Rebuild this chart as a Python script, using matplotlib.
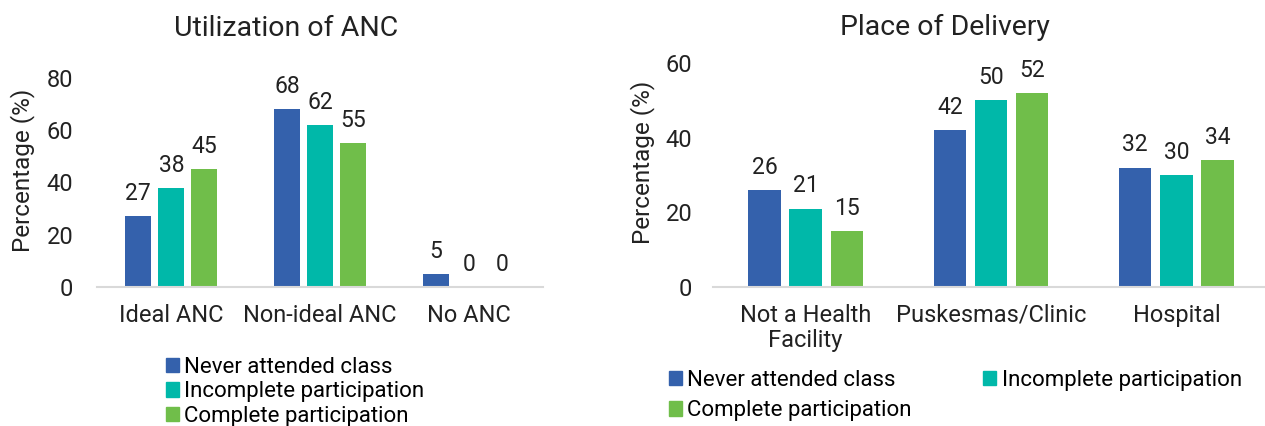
import matplotlib
matplotlib.use('Agg')
import matplotlib.pyplot as plt
import numpy as np
from matplotlib.patches import Patch

plt.rcParams['font.family'] = ['Roboto', 'DejaVu Sans']

# data
series = ['Never attended class', 'Incomplete participation', 'Complete participation']
colors = ['#3461ac', '#00b8a9', '#70be4a']

anc_cats = ['Ideal ANC', 'Non-ideal ANC', 'No ANC']
anc_never = [27, 68, 5]
anc_incomplete = [38, 62, 0]
anc_complete = [45, 55, 0]

del_cats = ['Not a Health\nFacility', 'Puskesmas/Clinic', 'Hospital']
del_never = [26, 42, 32]
del_incomplete = [21, 50, 30]
del_complete = [15, 52, 34]

fig = plt.figure(figsize=(12.65, 4.26), dpi=100)
W, H = 1265.0, 426.0
txt = '#222222'

def draw(ax, cats, vals, ymax, step, ypad):
    x = np.arange(len(cats))
    bw = 0.176
    off = 0.222
    for i, v in enumerate(vals):
        bars = ax.bar(x + (i - 1) * off, v, bw, color=colors[i], zorder=2)
        for b, val in zip(bars, v):
            ax.annotate(str(val), (b.get_x() + b.get_width() / 2, b.get_height()),
                        xytext=(0, 8), textcoords='offset points',
                        ha='center', va='bottom', fontsize=16.5, color=txt)
    ax.set_xlim(-0.5, len(cats) - 0.5)
    ax.set_ylim(0, ymax)
    ax.set_yticks(np.arange(0, ymax + 1, step))
    ax.set_xticks(x)
    ax.set_xticklabels(cats, fontsize=17, color=txt, linespacing=1.15)
    ax.tick_params(axis='y', length=0, pad=ypad, labelsize=17, labelcolor=txt)
    ax.tick_params(axis='x', length=0, pad=12)
    for s in ['top', 'right', 'left']:
        ax.spines[s].set_visible(False)
    ax.spines['bottom'].set_color('#d9d9d9')
    ax.spines['bottom'].set_linewidth(1.5)
    ax.set_ylabel('Percentage (%)', fontsize=17.5, color=txt)

# left chart
ax1 = fig.add_axes([97 / W, 1 - 287 / H, 446 / W, (287 - 78) / H])
draw(ax1, anc_cats, [anc_never, anc_incomplete, anc_complete], 80, 20, 17)
ax1.yaxis.set_label_coords((35 - 97) / 446, (287 - 170) / 209)
fig.text(286 / W, 1 - 28 / H, 'Utilization of ANC', ha='center', va='center',
         fontsize=20.5, color=txt)

# right chart
ax2 = fig.add_axes([713 / W, 1 - 287 / H, 556 / W, (287 - 63) / H])
draw(ax2, del_cats, [del_never, del_incomplete, del_complete], 60, 20, 15)
ax2.yaxis.set_label_coords((655 - 713) / 556, (287 - 162) / 224)
fig.text(945 / W, 1 - 27 / H, 'Place of Delivery', ha='center', va='center',
         fontsize=20.5, color=txt)

handles = [Patch(color=c) for c in colors]
fig.legend(handles, series, loc='upper left', bbox_to_anchor=(166 / W, 1 - 357 / H),
           frameon=False, fontsize=16, handlelength=0.6, handleheight=0.6,
           handletextpad=0.23, labelspacing=0.15, borderpad=0, borderaxespad=0)

fig.legend([handles[0], handles[2], handles[1]], [series[0], series[2], series[1]],
           ncol=2, loc='upper left', bbox_to_anchor=(669 / W, 1 - 370 / H),
           frameon=False, fontsize=16, handlelength=0.6, handleheight=0.6,
           handletextpad=0.23, labelspacing=0.42, columnspacing=3.2,
           borderpad=0, borderaxespad=0)

fig.savefig('out.png', dpi=100)
